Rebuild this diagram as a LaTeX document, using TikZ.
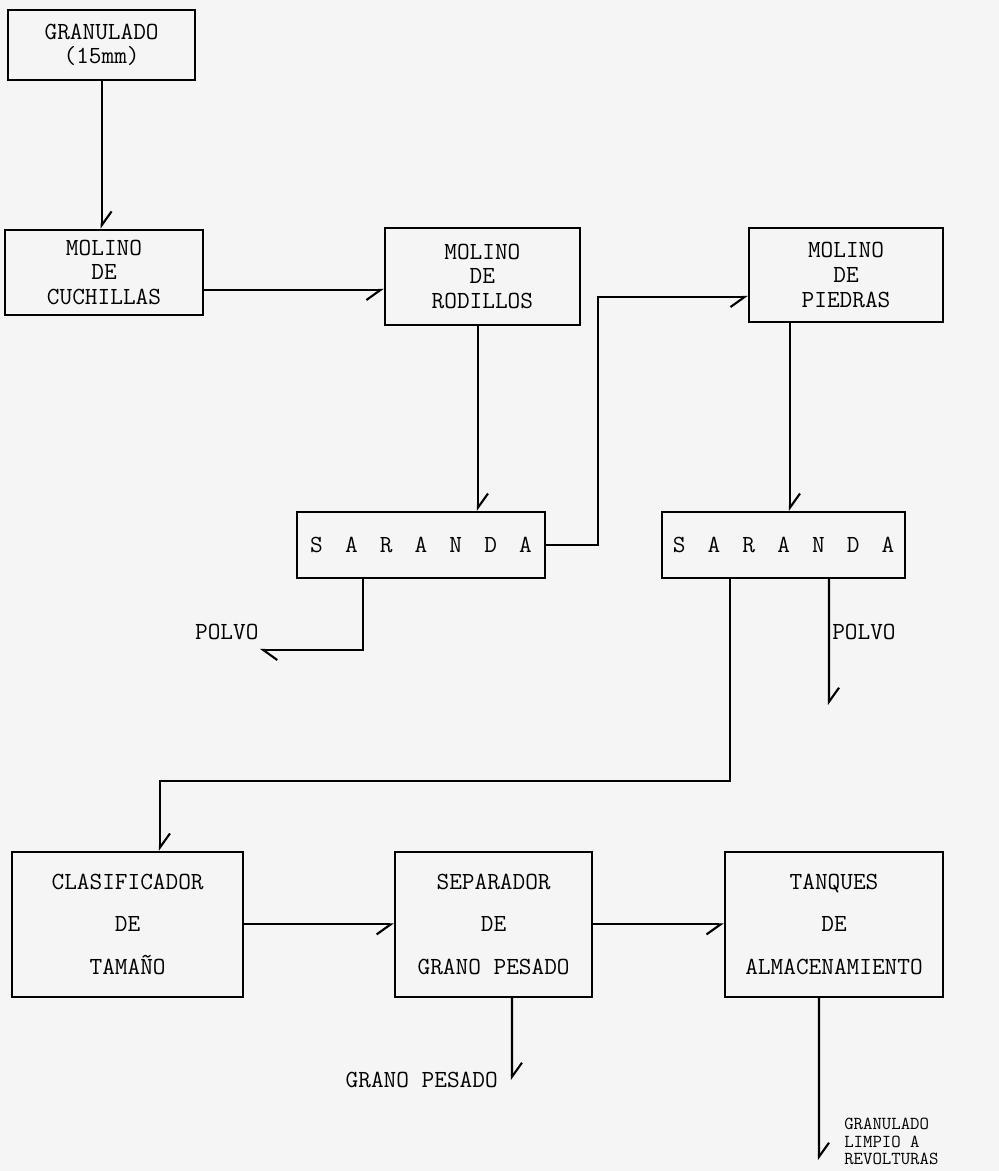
\documentclass[tikz,border=0pt]{standalone}
\usepackage{fontspec}
\usepackage{tikz}
\usetikzlibrary{arrows.meta,positioning}

\newcommand{\letra}{\ttfamily\fontsize{17.5}{17.5}\selectfont}

\begin{document}
\begin{tikzpicture}[
  caja/.style={draw, line width=1.7pt, align=center, font=\letra, inner sep=0pt},
  flujo/.style={line width=1.5pt, -{Straight Barb[right,length=3.5mm,width=5mm]}},
  salida/.style={line width=1.5pt, -{Straight Barb[left,length=3.5mm,width=5mm]}},
  rotulo/.style={font=\letra, align=left, inner sep=0pt}]
\useasboundingbox[fill=black!4] (0,0) rectangle (24.975,-29.275);

\node[caja, minimum width=4.675cm, minimum height=1.75cm] (granulado) at (2.54,-1.125) {GRANULADO\\(15mm)};
\node[caja, minimum width=4.95cm, minimum height=2.125cm] (cuchillas) at (2.6,-6.81) {MOLINO\\DE\\CUCHILLAS};
\node[caja, minimum width=4.875cm, minimum height=2.425cm] (rodillos) at (12.06,-6.91) {MOLINO\\DE\\RODILLOS};
\node[caja, minimum width=4.85cm, minimum height=2.35cm] (piedras) at (21.15,-6.875) {MOLINO\\DE\\PIEDRAS};
\node[caja, minimum width=6.2cm, minimum height=1.65cm] (saranda1) at (10.525,-13.625) {S\hspace{.9em}A\hspace{.9em}R\hspace{.9em}A\hspace{.9em}N\hspace{.9em}D\hspace{.9em}A};
\node[caja, minimum width=6.075cm, minimum height=1.65cm] (saranda2) at (19.59,-13.625) {S\hspace{.9em}A\hspace{.9em}R\hspace{.9em}A\hspace{.9em}N\hspace{.9em}D\hspace{.9em}A};
\node[caja, minimum width=5.775cm, minimum height=3.625cm] (clasif) at (3.19,-23.11) {CLASIFICADOR\\[12.5pt]DE\\[12.5pt]TAMAÑO};
\node[caja, minimum width=4.925cm, minimum height=3.625cm] (separador) at (12.34,-23.11) {SEPARADOR\\[12.5pt]DE\\[12.5pt]GRANO PESADO};
\node[caja, minimum width=5.45cm, minimum height=3.625cm] (tanques) at (20.85,-23.11) {TANQUES\\[12.5pt]DE\\[12.5pt]ALMACENAMIENTO};

\node[rotulo] (polvo1) at (5.67,-15.8) {POLVO};
\node[rotulo, anchor=west] (polvo2) at (20.8,-15.8) {POLVO};
\node[rotulo, anchor=east] (pesado) at (12.45,-27.0) {GRANO PESADO};
\node[rotulo, anchor=north west, font=\ttfamily\fontsize{13}{12.5}\selectfont] (limpio) at (21.1,-27.95) {GRANULADO\\LIMPIO A\\REVOLTURAS};

\coordinate (fin1) at (6.5,-16.25);
\coordinate (fin2) at (20.725,-17.625);
\coordinate (fin3) at (12.8,-27.0);
\coordinate (fin4) at (20.475,-29.0);

\draw[salida] (granulado.south) -- (granulado.south |- cuchillas.north);
\draw[flujo] ([yshift=-0.44cm]cuchillas.east) -- ([yshift=-0.34cm]rodillos.west);
\draw[salida] ([xshift=-0.11cm]rodillos.south) -- ([xshift=-0.11cm]rodillos.south |- saranda1.north);
\draw[flujo] (saranda1.east) -- ++(1.3,0) |- ([yshift=-0.55cm]piedras.west);
\draw[salida] ([xshift=-1.4cm]piedras.south) -- ([xshift=-1.4cm]piedras.south |- saranda2.north);
\draw[salida] ([xshift=-1.45cm]saranda1.south) |- (fin1);
\draw[salida] ([xshift=1.135cm]saranda2.south) -- (fin2);
\draw[salida] ([xshift=-1.34cm]saranda2.south) -- ++(0,-5.05) -| ([xshift=0.81cm]clasif.north);
\draw[flujo] (clasif) -- (separador);
\draw[flujo] (separador) -- (tanques);
\draw[salida] ([xshift=0.46cm]separador.south) -- (fin3);
\draw[salida] ([xshift=-0.375cm]tanques.south) -- (fin4);
\end{tikzpicture}
\end{document}
